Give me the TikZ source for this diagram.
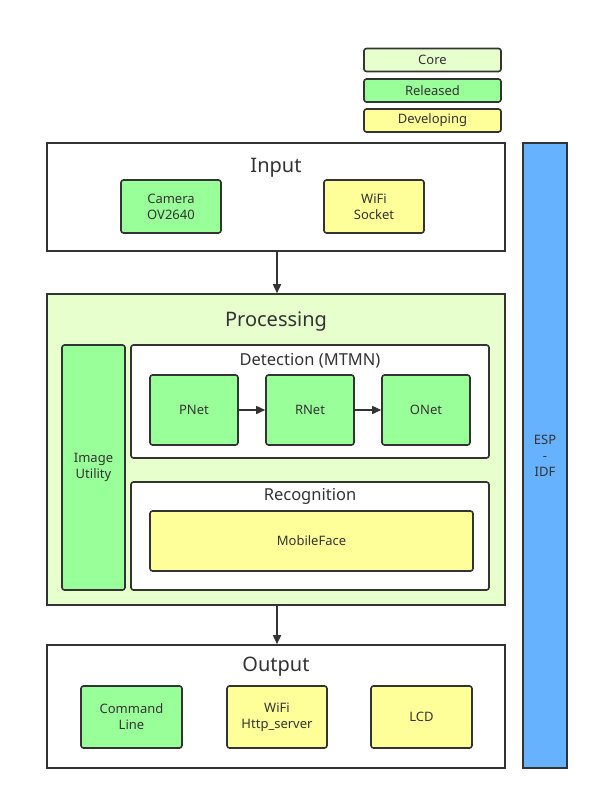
\documentclass[tikz,border=0pt]{standalone}
\usepackage{fontspec}
\setmainfont{Noto Sans}
\usetikzlibrary{arrows.meta}
\definecolor{edge}{HTML}{333333}
\definecolor{corec}{HTML}{E6FFCC}
\definecolor{relc}{HTML}{99FF99}
\definecolor{devc}{HTML}{FFFF99}
\definecolor{espc}{HTML}{66B2FF}
\tikzset{
  box/.style={draw=edge, line width=1.6pt, rounded corners=2.5pt, text=edge, align=center, font=\fontsize{13}{16}\selectfont, inner sep=0pt},
  outer/.style={draw=edge, line width=1.6pt, inner sep=0pt},
  core/.style={box, fill=corec},
  rel/.style={box, fill=relc},
  dev/.style={box, fill=devc},
  inner/.style={box, fill=white},
  title/.style={text=edge, font=\fontsize{20}{24}\selectfont, inner sep=0pt},
  subtitle/.style={text=edge, font=\fontsize{16.5}{20}\selectfont, inner sep=0pt},
  conn/.style={draw=edge, line width=1.6pt, -{Triangle[length=9pt,width=8pt]}},
}
\begin{document}
\begin{tikzpicture}[x=1pt,y=-1pt]
\useasboundingbox[fill=white] (0,0) rectangle (599,800);
% legend
\node[core, minimum width=137pt, minimum height=23pt] (lcore) at (432.5,60) {Core};
\node[rel, minimum width=137pt, minimum height=23pt] (lrel) at (432.5,90.5) {Released};
\node[dev, minimum width=137pt, minimum height=23pt] (ldev) at (432.5,120.5) {\raisebox{-1pt}{Developing}};
% input
\node[outer, fill=white, minimum width=458pt, minimum height=108pt] (input) at (276,197) {};
\node[title] (tin) at (276,167.5) {Input};
\node[rel, minimum width=100pt, minimum height=53pt] (cam) at (171,206.5) {Camera\\OV2640};
\node[dev, minimum width=100pt, minimum height=53pt] (wsock) at (374,206.5) {WiFi\\Socket};
% processing
\node[outer, fill=corec, minimum width=458pt, minimum height=311pt] (proc) at (276,449.5) {};
\node[title] (tproc) at (276,321.5) {Processing};
\node[rel, minimum width=63pt, minimum height=245pt] (imgu) at (93.5,467.5) {Image\\Utility};
\node[inner, minimum width=358pt, minimum height=113pt] (det) at (310,401.5) {};
\node[subtitle] (tdet) at (310,361) {Detection (MTMN)};
\node[rel, minimum width=88pt, minimum height=70pt] (pnet) at (194,410) {PNet};
\node[rel, minimum width=88pt, minimum height=70pt] (rnet) at (310,410) {RNet};
\node[rel, minimum width=88pt, minimum height=70pt] (onet) at (426,410) {ONet};
\node[inner, minimum width=358pt, minimum height=108pt] (recog) at (310,536) {};
\node[subtitle] (trec) at (310,496) {Recognition};
\node[dev, minimum width=323pt, minimum height=60pt] (mface) at (311.5,541) {MobileFace};
% output
\node[outer, fill=white, minimum width=458pt, minimum height=123pt] (output) at (276,706.5) {};
\node[title] (tout) at (276,666.5) {Output};
\node[rel, minimum width=101pt, minimum height=62pt] (cmd) at (131.5,717) {Command\\Line};
\node[dev, minimum width=100pt, minimum height=62pt] (http) at (277,717) {WiFi\\Http\_server};
\node[dev, minimum width=101pt, minimum height=62pt] (lcd) at (421.5,717) {LCD};
% esp-idf
\node[outer, fill=espc, text=edge, align=center, font=\fontsize{13}{16}\selectfont, minimum width=44pt, minimum height=625pt] (esp) at (545,455.5) {ESP\\-\\IDF};
% connectors
\draw[conn] (input.south -| 277,0) -- (proc.north -| 277,0);
\draw[conn] (proc.south -| 277,0) -- (output.north -| 277,0);
\draw[conn] (pnet) -- (rnet);
\draw[conn] (rnet) -- (onet);
\end{tikzpicture}
\end{document}
